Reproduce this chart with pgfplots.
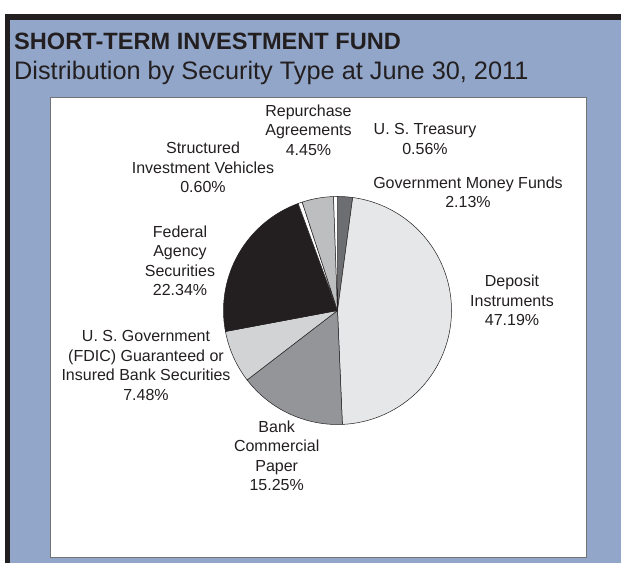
\documentclass[border=0pt]{standalone}
\usepackage{pgfplots}
\pgfplotsset{compat=1.18}
\usepackage{fontspec}
\setmainfont{Liberation Sans}
\definecolor{bgblue}{RGB}{146,166,201}
\definecolor{txt}{RGB}{35,31,32}
\definecolor{cGov}{RGB}{109,110,113}
\definecolor{cDep}{RGB}{230,231,232}
\definecolor{cBank}{RGB}{147,149,152}
\definecolor{cFDIC}{RGB}{209,211,212}
\definecolor{cFed}{RGB}{35,31,32}
\definecolor{cStr}{RGB}{255,255,255}
\definecolor{cRep}{RGB}{188,190,192}
\definecolor{cTre}{RGB}{255,255,255}
% slice values (percent), clockwise from 12 o'clock
\def\vGov{2.13}
\def\vDep{47.19}
\def\vBank{15.25}
\def\vFDIC{7.48}
\def\vFed{22.34}
\def\vStr{0.60}
\def\vRep{4.45}
\def\vTre{0.56}
\pgfmathsetmacro\aA{90}
\pgfmathsetmacro\aB{\aA-3.6*\vGov}
\pgfmathsetmacro\aC{\aB-3.6*\vDep}
\pgfmathsetmacro\aD{\aC-3.6*\vBank}
\pgfmathsetmacro\aE{\aD-3.6*\vFDIC}
\pgfmathsetmacro\aF{\aE-3.6*\vFed}
\pgfmathsetmacro\aG{\aF-3.6*\vStr}
\pgfmathsetmacro\aH{\aG-3.6*\vRep}
\pgfmathsetmacro\aI{\aH-3.6*\vTre}
\begin{document}
\begin{tikzpicture}[x=1bp,y=1bp]
\fill[white] (0,0) rectangle (621,563);
\fill[bgblue] (5,0) rectangle (621,549);
\fill[txt] (5,543) rectangle (621,549);
\fill[txt] (5,0) rectangle (10,549);
\fill[black!70] (51,5) rectangle (587,465);
\filldraw[fill=white,draw=black!55,line width=0.8bp] (50,6) rectangle (586,466);
\node[anchor=base west,inner sep=0pt,text=txt,font=\fontsize{23.6bp}{26bp}\selectfont\bfseries] at (14,513) {SHORT-TERM INVESTMENT FUND};
\node[anchor=base west,inner sep=0pt,text=txt,font=\fontsize{25.3bp}{28bp}\selectfont] at (14,483) {Distribution by Security Type at June 30, 2011};
\begin{axis}[at={(337.5bp,252.5bp)},anchor=center,width=228bp,height=228bp,scale only axis,
  xmin=-1,xmax=1,ymin=-1,ymax=1,hide axis,clip=false]
\addplot[fill=cGov,draw=txt,line width=0.5bp,domain=\aB:\aA,samples=10,variable=\t] ({cos(t)},{sin(t)}) -- (axis cs:0,0) -- cycle;
\addplot[fill=cDep,draw=txt,line width=0.5bp,domain=\aC:\aB,samples=120,variable=\t] ({cos(t)},{sin(t)}) -- (axis cs:0,0) -- cycle;
\addplot[fill=cBank,draw=txt,line width=0.5bp,domain=\aD:\aC,samples=50,variable=\t] ({cos(t)},{sin(t)}) -- (axis cs:0,0) -- cycle;
\addplot[fill=cFDIC,draw=txt,line width=0.5bp,domain=\aE:\aD,samples=30,variable=\t] ({cos(t)},{sin(t)}) -- (axis cs:0,0) -- cycle;
\addplot[fill=cFed,draw=txt,line width=0.5bp,domain=\aF:\aE,samples=60,variable=\t] ({cos(t)},{sin(t)}) -- (axis cs:0,0) -- cycle;
\addplot[fill=cStr,draw=txt,line width=0.5bp,domain=\aG:\aF,samples=5,variable=\t] ({cos(t)},{sin(t)}) -- (axis cs:0,0) -- cycle;
\addplot[fill=cRep,draw=txt,line width=0.5bp,domain=\aH:\aG,samples=15,variable=\t] ({cos(t)},{sin(t)}) -- (axis cs:0,0) -- cycle;
\addplot[fill=cTre,draw=txt,line width=0.5bp,domain=\aI:\aH,samples=5,variable=\t] ({cos(t)},{sin(t)}) -- (axis cs:0,0) -- cycle;
\end{axis}
\begin{scope}[every node/.style={align=center,text=txt,inner sep=0pt,font=\fontsize{16bp}{19.5bp}\selectfont}]
\node at (308.5,433) {Repurchase\\Agreements\\4.45\%};
\node at (203,395.5) {Structured\\Investment Vehicles\\0.60\%};
\node at (425,424) {U. S. Treasury\\0.56\%};
\node at (468,370.5) {Government Money Funds\\2.13\%};
\node at (180,302) {Federal\\Agency\\Securities\\22.34\%};
\node at (146,197.5) {U. S. Government\\(FDIC) Guaranteed or\\Insured Bank Securities\\7.48\%};
\node at (512,262.5) {Deposit\\Instruments\\47.19\%};
\node at (276.7,107) {Bank\\Commercial\\Paper\\15.25\%};
\end{scope}
\end{tikzpicture}
\end{document}
